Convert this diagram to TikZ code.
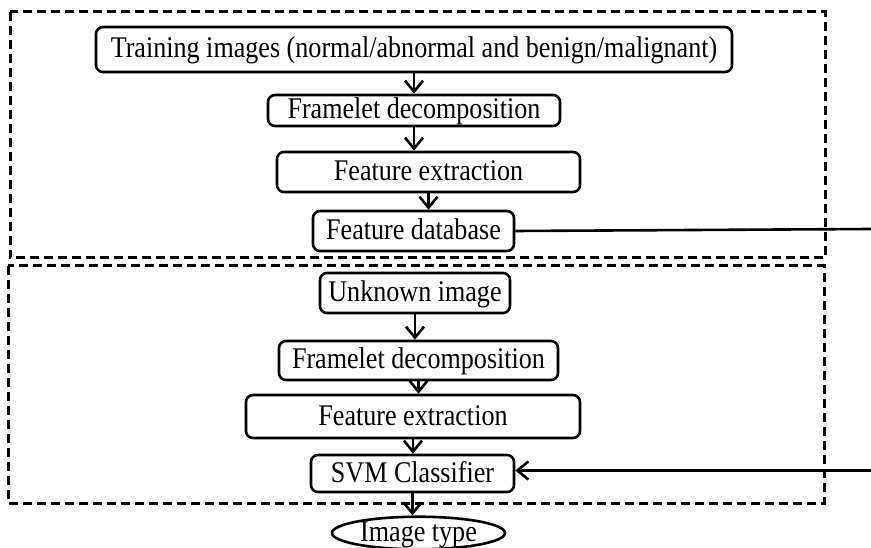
\documentclass[tikz,border=0pt]{standalone}
\usepackage{fontspec}
\setmainfont{Liberation Serif}[FakeStretch=0.87]
\usepackage{tikz}
\usetikzlibrary{positioning, shapes.geometric, arrows.meta}

\begin{document}
\begin{tikzpicture}[x=1pt, y=-1pt, every node/.style={font=\fontsize{30}{32}\selectfont},
  stage/.style={draw, line width=3pt, dash pattern=on 9pt off 5pt},
  box/.style={draw, line width=2.6pt, rounded corners=7pt, inner sep=1pt, text height=20pt, text depth=3pt},
  flow/.style={line width=2.6pt, -{Straight Barb[length=11pt, width=18pt, line width=2.6pt]}}]
\useasboundingbox (0,0) rectangle (871,548);
% Stage frames
\draw[stage] (10,12) rectangle (825,258);
\draw[stage] (8,266) rectangle (824,503);
% Training stage
\node[box, minimum width=636pt, minimum height=45pt] (train) at (414,49.5) {Training images (normal/abnormal and benign/malignant)};
\node[box, minimum width=292pt, minimum height=31pt] (frameA) at (414,110.5) {Framelet decomposition};
\node[box, minimum width=303pt, minimum height=40pt] (featA) at (428.5,172) {Feature extraction};
\node[box, minimum width=201pt, minimum height=40pt] (db) at (413.5,231) {Feature database};
% Testing stage
\node[box, minimum width=190pt, minimum height=40pt] (unknown) at (415,293) {Unknown image};
\node[box, minimum width=279pt, minimum height=39pt] (frameB) at (418.5,360.5) {Framelet decomposition};
\node[box, minimum width=334pt, minimum height=43pt] (featB) at (413,416.5) {Feature extraction};
\node[box, minimum width=203pt, minimum height=37pt] (svm) at (412.5,473.5) {SVM Classifier};
\node[draw, ellipse, line width=2.6pt, inner sep=0pt, text height=20pt, text depth=3pt, minimum width=173pt, minimum height=32pt] (imgtype) at (418.5,533) {Image type};
% Right rim (line leaves the picture)
\coordinate (rim) at (871,0);
% Arrows
\foreach \a/\b in {train/frameA, frameA/featA, featA/db, unknown/frameB, frameB/featB, featB/svm, svm/imgtype} {
  \draw[flow] (\a.south) -- (\a.south |- \b.north);
}
\draw[line width=2.6pt] (db.east) -- ([yshift=2pt]db.east -| rim);
\draw[flow] ([yshift=3pt]svm.east -| rim) -- ([yshift=3pt]svm.east);
\end{tikzpicture}
\end{document}
